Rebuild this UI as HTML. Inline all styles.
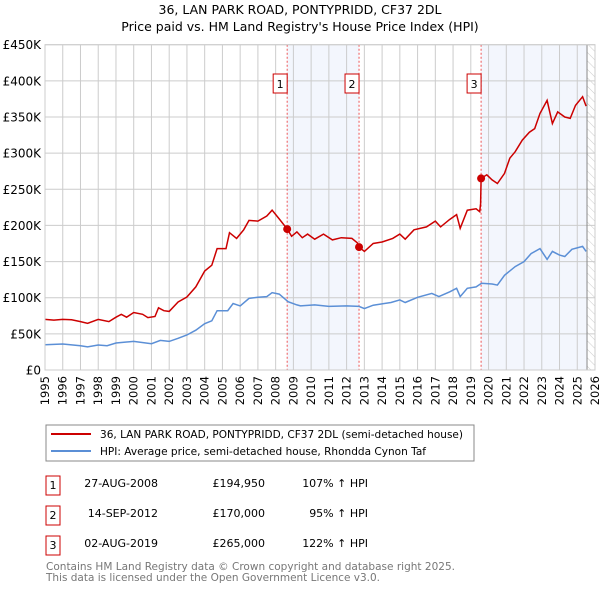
<!DOCTYPE html>
<html><head><meta charset="utf-8"><style>
body{margin:0;background:#fff;font-family:"Liberation Sans","DejaVu Sans",sans-serif;}
svg{display:block}
</style></head><body>
<svg id="chart" width="600" height="590" xmlns="http://www.w3.org/2000/svg" font-family="DejaVu Sans, Liberation Sans, sans-serif">
<defs><pattern id="hatch" width="6" height="6" patternUnits="userSpaceOnUse" patternTransform="rotate(-45)"><line x1="0" y1="0" x2="0" y2="6" stroke="#ccc" stroke-width="1"/></pattern></defs>
<text x="300" y="14" text-anchor="middle" font-size="12.5">36, LAN PARK ROAD, PONTYPRIDD, CF37 2DL</text>
<text x="300" y="31" text-anchor="middle" font-size="12.5">Price paid vs. HM Land Registry's House Price Index (HPI)</text>
<g id="plot"></g>
<g>
<rect x="46" y="425" width="428" height="36" fill="#fff" stroke="#888"/>
<line x1="51" y1="434" x2="91" y2="434" stroke="#cc0000" stroke-width="2"/>
<text x="100" y="438" font-size="10.6" textLength="363" lengthAdjust="spacingAndGlyphs">36, LAN PARK ROAD, PONTYPRIDD, CF37 2DL (semi-detached house)</text>
<line x1="51" y1="451" x2="91" y2="451" stroke="#5b8fd6" stroke-width="2"/>
<text x="100" y="455" font-size="10.6" textLength="326" lengthAdjust="spacingAndGlyphs">HPI: Average price, semi-detached house, Rhondda Cynon Taf</text>
</g>
<g font-size="11">
<rect x="46" y="476" width="14" height="19" fill="#fff" stroke="#cc0000"/><text x="53" y="489" text-anchor="middle">1</text>
<text x="158" y="487" text-anchor="end">27-AUG-2008</text><text x="265" y="487" text-anchor="end">£194,950</text><text x="368" y="487" text-anchor="end">107% ↑ HPI</text>
<rect x="46" y="506" width="14" height="19" fill="#fff" stroke="#cc0000"/><text x="53" y="519" text-anchor="middle">2</text>
<text x="158" y="517" text-anchor="end">14-SEP-2012</text><text x="265" y="517" text-anchor="end">£170,000</text><text x="368" y="517" text-anchor="end">95% ↑ HPI</text>
<rect x="46" y="536" width="14" height="19" fill="#fff" stroke="#cc0000"/><text x="53" y="549" text-anchor="middle">3</text>
<text x="158" y="547" text-anchor="end">02-AUG-2019</text><text x="265" y="547" text-anchor="end">£265,000</text><text x="368" y="547" text-anchor="end">122% ↑ HPI</text>
</g>
<text x="46" y="570" font-size="10.6" fill="#777" textLength="409" lengthAdjust="spacingAndGlyphs">Contains HM Land Registry data © Crown copyright and database right 2025.</text>
<text x="46" y="581" font-size="10.6" fill="#777" textLength="334" lengthAdjust="spacingAndGlyphs">This data is licensed under the Open Government Licence v3.0.</text>
</svg>
<script>
const redT=[1995,1995.5,1996,1996.5,1997,1997.4,1998,1998.6,1999,1999.3,1999.6,2000,2000.5,2000.8,2001.2,2001.4,2001.7,2002,2002.5,2003,2003.5,2004,2004.4,2004.7,2005.2,2005.4,2005.8,2006.2,2006.5,2007,2007.5,2007.8,2008.2,2008.65,2008.9,2009.2,2009.5,2009.8,2010.2,2010.7,2011.2,2011.7,2012.3,2012.6,2012.7,2013,2013.5,2014,2014.6,2015,2015.3,2015.8,2016.5,2017,2017.3,2017.8,2018.2,2018.4,2018.8,2019.3,2019.5,2019.55,2019.58,2019.9,2020.2,2020.5,2020.9,2021.2,2021.5,2021.9,2022.3,2022.6,2022.9,2023.3,2023.6,2023.9,2024.3,2024.6,2024.9,2025.3,2025.5];
const redV=[70,69,70,69.5,67,64.6,70,67,73,77,73,79.5,77,72.5,74,86,82,81,94,101,115,137,145,168,168,190,182,194,207,206,213,221,209,195,185,191,183,188,181,188,180,183,182,176,170,164,175,177,182,188,181,194,198,206,198,208,215,196,221,223,219,230,265,270,263,258,272,293,302,318,329,334,355,373,341,357,350,348,366,378,365];
const blueT=[1995,1996,1997,1997.4,1998,1998.5,1999,2000,2001,2001.5,2002,2002.5,2003,2003.5,2004,2004.4,2004.7,2005.3,2005.6,2006,2006.5,2007,2007.5,2007.8,2008.2,2008.7,2009.2,2009.4,2010.2,2011,2012,2012.7,2013,2013.5,2014.5,2015,2015.3,2016,2016.8,2017.2,2017.8,2018.2,2018.4,2018.8,2019.3,2019.6,2020.2,2020.5,2020.9,2021.5,2022,2022.4,2022.9,2023.3,2023.6,2024,2024.3,2024.7,2025.3,2025.5];
const blueV=[35,36,33.6,31.9,34.6,33.6,37.4,39.6,36.4,41,39.6,43.8,48.4,55,64,68,82,82,92,88.7,99,100.6,101.5,107,105,94.5,90,88.7,90,88,88.7,88,85,89.7,93.4,97,93.4,100.6,106,101.5,108,113,101.5,113,115,120,119,117.5,131,143,150,161,168,153,164,159,157,167,171,164];
const saleT=[2008.65,2012.7,2019.58];
const saleV=[194.95,170,265];
const saleLabels=["1","2","3"];
const yTicks=[0,50,100,150,200,250,300,350,400,450];
const yTickLabels=["£0","£50K","£100K","£150K","£200K","£250K","£300K","£350K","£400K","£450K"];
const xYears=[];for(let y=1995;y<=2026;y++)xYears.push(y);
const X0=45,X1=595,Y0=370,Y1=44.7,T0=1995,T1=2026,VMAX=450,HATCH=2025.55;
const xs=t=>X0+(t-T0)/(T1-T0)*(X1-X0);
const ys=v=>Y0-v/VMAX*(Y0-Y1);
const NS="http://www.w3.org/2000/svg";
const g=document.getElementById('plot');
function mk(tag,attrs,parent){const e=document.createElementNS(NS,tag);for(const k in attrs)e.setAttribute(k,attrs[k]);(parent||g).appendChild(e);return e;}
let e;
e=mk('rect',{x:xs(saleT[0]),y:Y1,width:xs(saleT[1])-xs(saleT[0]),height:Y0-Y1,fill:'#eef2fc',opacity:0.7});


e=mk('rect',{x:xs(saleT[2]),y:Y1,width:xs(HATCH)-xs(saleT[2]),height:Y0-Y1,fill:'#eef2fc',opacity:0.7});


e=mk('rect',{x:xs(HATCH),y:Y1,width:X1-xs(HATCH),height:Y0-Y1,fill:'url(#hatch)'});


xYears.forEach(y=>{e=mk('line',{x1:xs(y),x2:xs(y),y1:Y1,y2:Y0,stroke:'#cccccc','stroke-width':1});


e=mk('text',{x:0,y:0,'font-size':11.5,'text-anchor':'end',transform:`translate(${xs(y)+4},${Y0+6}) rotate(-90)`});e.textContent=y;

});
yTicks.forEach((v,i)=>{e=mk('line',{x1:X0,x2:X1,y1:ys(v),y2:ys(v),stroke:'#cccccc','stroke-width':1});


e=mk('text',{x:41,y:ys(v)+4.5,'font-size':12,'text-anchor':'end'});e.textContent=yTickLabels[i];

});
e=mk('line',{x1:xs(HATCH),x2:xs(HATCH),y1:Y1,y2:Y0,stroke:'#888','stroke-width':1});


saleT.forEach((t,i)=>{e=mk('line',{x1:xs(t),x2:xs(t),y1:Y1,y2:Y0,stroke:'#ee5555','stroke-width':1,'stroke-dasharray':'2,2'});

});
function path(T,V){return T.map((t,i)=>(i?'L':'M')+xs(t).toFixed(1)+','+ys(V[i]).toFixed(1)).join('');}
e=mk('path',{d:path(blueT,blueV),fill:'none',stroke:'#5b8fd6','stroke-width':1.5});


e=mk('path',{d:path(redT,redV),fill:'none',stroke:'#cc0000','stroke-width':1.5});


saleT.forEach((t,i)=>{e=mk('circle',{cx:xs(t),cy:ys(saleV[i]),r:4,fill:'#cc0000'});


e=mk('rect',{x:xs(t)-14,y:74,width:14,height:19,fill:'#fff',stroke:'#cc0000'});


e=mk('text',{x:xs(t)-7,y:88,'font-size':11,'text-anchor':'middle'});e.textContent=saleLabels[i];

});
e=mk('rect',{x:X0,y:Y1,width:X1-X0,height:Y0-Y1,fill:'none',stroke:'#cccccc'});


</script>
</body></html>
